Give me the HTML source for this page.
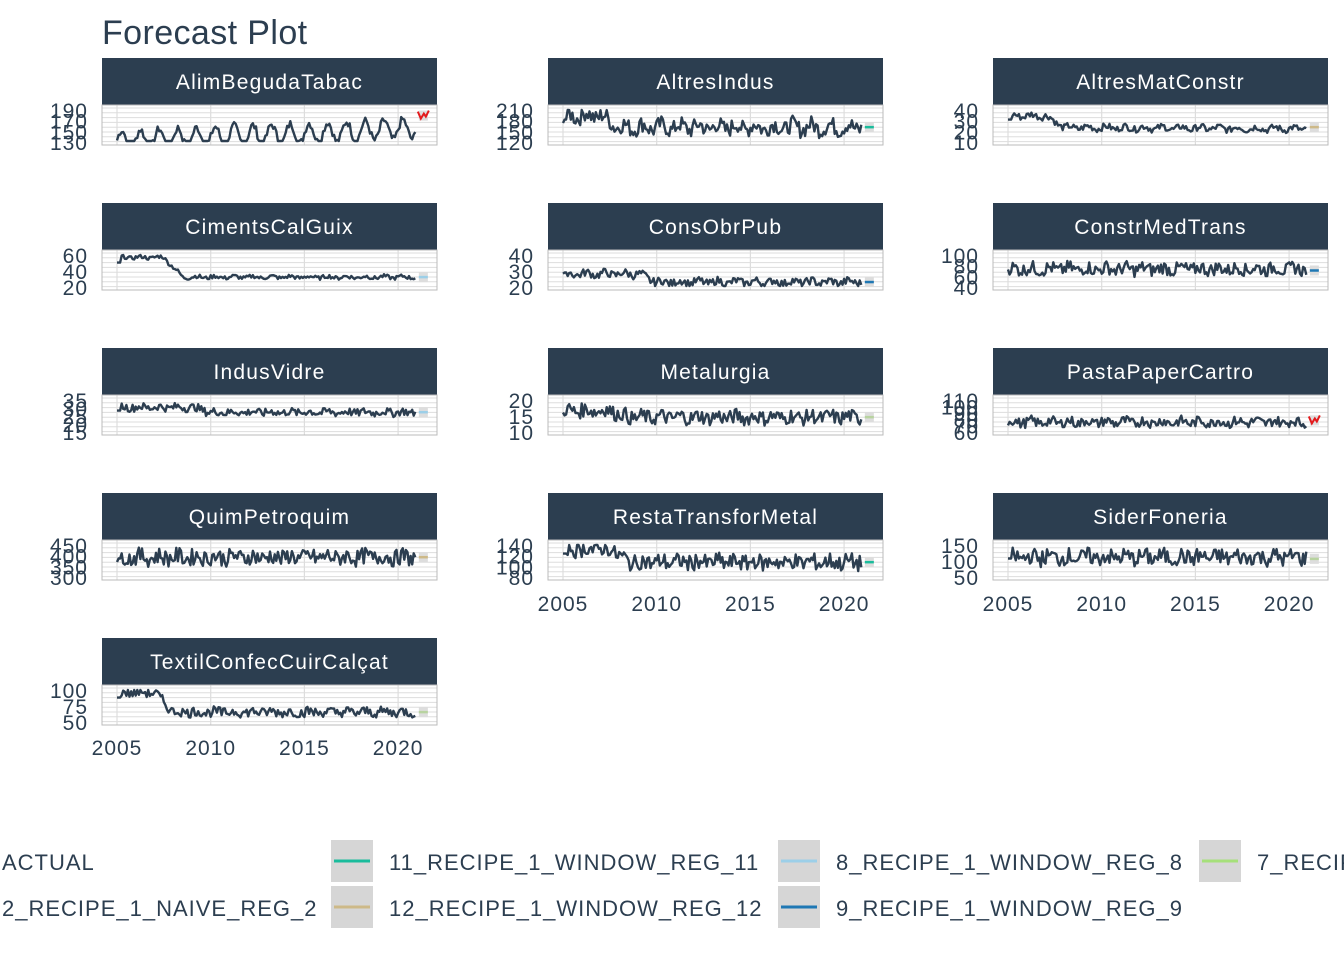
<!DOCTYPE html><html><head><meta charset="utf-8"><style>
body{margin:0;width:1344px;height:960px;background:#fff;overflow:hidden;font-family:"Liberation Sans",sans-serif;color:#2c3e50}
svg{position:absolute;left:0;top:0}
</style></head><body>
<svg id="s" width="1344" height="960" xmlns="http://www.w3.org/2000/svg" font-family="Liberation Sans, sans-serif">
<text x="102" y="44" font-size="34" fill="#2c3e50" letter-spacing="0.4">Forecast Plot</text>
<g id="p"></g>
<g font-size="22" fill="#2c3e50" letter-spacing="1">
<text x="2" y="870">ACTUAL</text>
<text x="2" y="916">2_RECIPE_1_NAIVE_REG_2</text>
<rect x="331" y="840" width="42" height="42" fill="#d6d6d6"/><line x1="334" x2="370" y1="861" y2="861" stroke="#1abc9c" stroke-width="3"/>
<rect x="331" y="886" width="42" height="42" fill="#d6d6d6"/><line x1="334" x2="370" y1="907" y2="907" stroke="#cdb988" stroke-width="3"/>
<text x="389" y="870">11_RECIPE_1_WINDOW_REG_11</text>
<text x="389" y="916">12_RECIPE_1_WINDOW_REG_12</text>
<rect x="778" y="840" width="42" height="42" fill="#d6d6d6"/><line x1="781" x2="817" y1="861" y2="861" stroke="#9ccfe8" stroke-width="3"/>
<rect x="778" y="886" width="42" height="42" fill="#d6d6d6"/><line x1="781" x2="817" y1="907" y2="907" stroke="#1f78b4" stroke-width="3"/>
<text x="836" y="870">8_RECIPE_1_WINDOW_REG_8</text>
<text x="836" y="916">9_RECIPE_1_WINDOW_REG_9</text>
<rect x="1199" y="840" width="42" height="42" fill="#d6d6d6"/><line x1="1202" x2="1238" y1="861" y2="861" stroke="#a6e07a" stroke-width="3"/>
<text x="1257" y="870">7_RECIPE_1_WINDOW_REG_7</text>
</g>
</svg>
<script>
var P=[
["AlimBegudaTabac",0,0,["190","170","150","130"],"#e31a1c",[.05,.45,2030,.12,.3,.35]],
["AltresIndus",1,0,["210","180","150","120"],"#1abc9c",[.8,.45,2008,.25,.1,0]],
["AltresMatConstr",2,0,["40","30","20","10"],"#cdb988",[.8,.45,2008,.1,.05,-.05]],
["CimentsCalGuix",0,1,["60","40","20"],"#9ccfe8",[.9,.3,2008.5,.06,.03,0]],
["ConsObrPub",1,1,["40","30","20"],"#1f78b4",[.4,.15,2010,.12,.05,0]],
["ConstrMedTrans",2,1,["100","80","60","40"],"#1f78b4",[.55,.5,2030,.2,.05,0]],
["IndusVidre",0,2,["35","30","25","20","15"],"#9ccfe8",[.75,.6,2010,.12,.03,0]],
["Metalurgia",1,2,["20","15","10"],"#b8d3a0",[.65,.45,2008.5,.22,.05,0]],
["PastaPaperCartro",2,2,["110","100","90","80","70","60"],"#e31a1c",[.3,.35,2030,.15,.05,0]],
["QuimPetroquim",0,3,["450","400","350","300"],"#cdb988",[.6,.6,2030,.25,.05,0]],
["RestaTransforMetal",1,3,["140","120","100","80"],"#1abc9c",[.85,.45,2008.5,.25,.05,0]],
["SiderFoneria",2,3,["150","100","50"],"#b8d3a0",[.6,.55,2030,.25,.05,0]],
["TextilConfecCuirCalçat",0,4,["100","75","50"],"#b8d3a0",[.9,.3,2008,.15,.03,0]]];
var g="",seed=7;function r(){seed=(seed*9301+49297)%233280;return seed/233280;}
var CX=[102,548,993];
P.forEach(function(p){var x0=CX[p[1]],ys=58+p[2]*145,pt=ys+47,pb=ys+87,w=335;
g+='<rect x="'+x0+'" y="'+ys+'" width="'+w+'" height="47" fill="#2c3e50"/>';
g+='<text x="'+(x0+w/2)+'" y="'+(ys+31)+'" font-size="21" fill="#fff" text-anchor="middle" letter-spacing="1.2">'+p[0]+'</text>';
for(var i=0;i<8;i++){var yy=pt+3+i*4.8;g+='<line x1="'+x0+'" x2="'+(x0+w)+'" y1="'+yy+'" y2="'+yy+'" stroke="#ddd" stroke-width="1"/>';}
for(var k=0;k<4;k++){var xx=x0+15+k*93.7;g+='<line x1="'+xx+'" x2="'+xx+'" y1="'+pt+'" y2="'+pb+'" stroke="#ddd" stroke-width="1.2"/>';}
g+='<rect x="'+x0+'" y="'+pt+'" width="'+w+'" height="40" fill="none" stroke="#bbb"/>';
var L=p[3],n=L.length;for(var j=0;j<n;j++){var yy=pt+5+j*(32/(n-1));g+='<text x="'+(x0-14)+'" y="'+(yy+8)+'" font-size="21" fill="#2c3e50" text-anchor="end" letter-spacing="1">'+L[j]+'</text>';}
var a=p[5],d="";for(var m=0;m<192;m++){var yr=2005+m/12,lv=yr<a[2]?a[0]:a[1];if(a[2]<2030&&yr>=a[2]-1&&yr<a[2])lv=a[0]+(a[1]-a[0])*(yr-a[2]+1);
lv+=a[5]*(yr-2005)/16+a[4]*Math.sin(m*Math.PI/6)+(r()-.5)*a[3]*2;if(m<3)lv=Math.min(lv,.2+a[0]*.6);
lv=Math.max(.03,Math.min(.97,lv));var X=x0+15+(yr-2005)*18.74,Y=pb-3-lv*33;d+=(m?"L":"M")+X.toFixed(1)+","+Y.toFixed(1);}
g+='<path d="'+d+'" fill="none" stroke="#2c3e50" stroke-width="2.4" stroke-linejoin="round"/>';
var fx=x0+15+16*18.74,fy=pb-3-a[1]*33-(a[5]>0?a[5]*33:0);
g+='<rect x="'+(fx+2)+'" y="'+(fy-5)+'" width="9" height="10" fill="#ddd"/>';
if(p[4]=="#e31a1c")g+='<path d="M'+(fx+1)+','+(fy-4)+'l3,7l3,-5l2,3l3,-6" fill="none" stroke="#e31a1c" stroke-width="2"/>';
else g+='<line x1="'+(fx+2)+'" x2="'+(fx+11)+'" y1="'+fy+'" y2="'+fy+'" stroke="'+p[4]+'" stroke-width="2.5"/>';
});
[[102,747],[548,603],[993,603]].forEach(function(q){["2005","2010","2015","2020"].forEach(function(t,k){g+='<text x="'+(q[0]+15+k*93.7)+'" y="'+(q[1]+8)+'" font-size="21" fill="#2c3e50" text-anchor="middle" letter-spacing="1">'+t+'</text>';});});
document.getElementById("p").innerHTML=g;
</script>
</body></html>
